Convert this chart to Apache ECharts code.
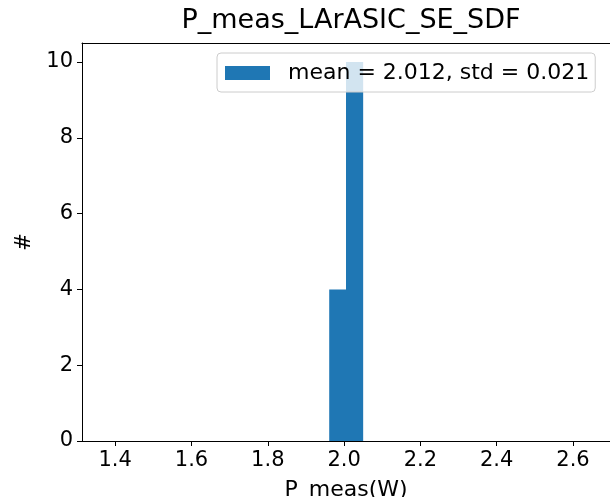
<!DOCTYPE html>
<html>
<head>
<meta charset="utf-8">
<script src="https://cdn.jsdelivr.net/npm/echarts@6/dist/echarts.min.js"></script>
<style>
  html, body { margin: 0; padding: 0; background: #fff; }
  #chart { width: 610px; height: 497px; }
</style>
</head>
<body>
<div id="chart"></div>
<script>
// histogram bins (edges) and counts
const binEdges = [1.961, 2.005, 2.050];
const counts = [4, 10];
const xTicks = [1.4, 1.6, 1.8, 2.0, 2.2, 2.4, 2.6];
const yTicks = [0, 2, 4, 6, 8, 10];
const seriesName = 'mean = 2.012, std = 0.021';

const histData = counts.map(function (c, i) {
    return [binEdges[i], binEdges[i + 1], c];
});

var dom = document.getElementById('chart');
var myChart = echarts.init(dom, null, { renderer: 'canvas' });

const font = 'DejaVu Sans';
const xMin = 1.313, xMax = 2.697;

var option = {
    animation: false,
    title: {
        text: 'P_meas_LArASIC_SE_SDF',
        left: 351,
        top: 7,
        padding: 0,
        textAlign: 'center',
        textStyle: { fontFamily: font, fontSize: 27, fontWeight: 'normal', color: '#000' }
    },
    legend: {
        left: 217,
        top: 53,
        padding: [7, 6, 6, 8],
        itemWidth: 45,
        itemHeight: 14,
        borderColor: '#cccccc',
        borderWidth: 1,
        borderRadius: 4,
        backgroundColor: 'rgba(255,255,255,0.8)',
        data: [{ name: seriesName, icon: 'rect' }],
        textStyle: { fontFamily: font, fontSize: 22, color: '#000', lineHeight: 26, padding: [0, 0, 0, 13] }
    },
    grid: {
        left: 82,
        right: 0,
        top: 43,
        bottom: 56,
        outerBoundsMode: 'none',
        containLabel: false
    },
    xAxis: [
        {
            type: 'value',
            min: xMin,
            max: xMax,
            name: 'P_meas(W)',
            nameLocation: 'middle',
            nameGap: 38,
            nameTextStyle: { fontFamily: font, fontSize: 22, color: '#000' },
            axisLine: { show: true, onZero: false, lineStyle: { color: '#000' } },
            axisTick: { show: true, inside: false, length: 5, lineStyle: { color: '#000' }, customValues: xTicks },
            axisLabel: {
                fontFamily: font, fontSize: 21, color: '#000', margin: 9,
                customValues: xTicks,
                formatter: function (v) { return v.toFixed(1); }
            },
            splitLine: { show: false }
        },
        {
            // top spine
            type: 'value',
            position: 'top',
            min: xMin,
            max: xMax,
            axisLine: { show: true, onZero: false, lineStyle: { color: '#000' } },
            axisTick: { show: false },
            axisLabel: { show: false },
            splitLine: { show: false }
        }
    ],
    yAxis: {
        type: 'value',
        min: 0,
        max: 10.5,
        name: '#',
        nameLocation: 'middle',
        nameGap: 44,
        nameTextStyle: { fontFamily: font, fontSize: 21, color: '#000' },
        axisLine: { show: true, lineStyle: { color: '#000' } },
        axisTick: { show: true, inside: false, length: 5, lineStyle: { color: '#000' }, customValues: yTicks },
        axisLabel: {
            fontFamily: font, fontSize: 21, color: '#000', margin: 9,
            customValues: yTicks
        },
        splitLine: { show: false }
    },
    series: [
        {
            name: seriesName,
            type: 'custom',
            xAxisIndex: 0,
            itemStyle: { color: '#1f77b4' },
            encode: { x: [0, 1], y: 2 },
            data: histData,
            renderItem: function (params, api) {
                var p0 = api.coord([api.value(0), api.value(2)]);
                var p1 = api.coord([api.value(1), 0]);
                return {
                    type: 'rect',
                    shape: { x: p0[0], y: p0[1], width: p1[0] - p0[0], height: p1[1] - p0[1] },
                    style: api.style()
                };
            }
        }
    ]
};

myChart.setOption(option);
</script>
</body>
</html>
